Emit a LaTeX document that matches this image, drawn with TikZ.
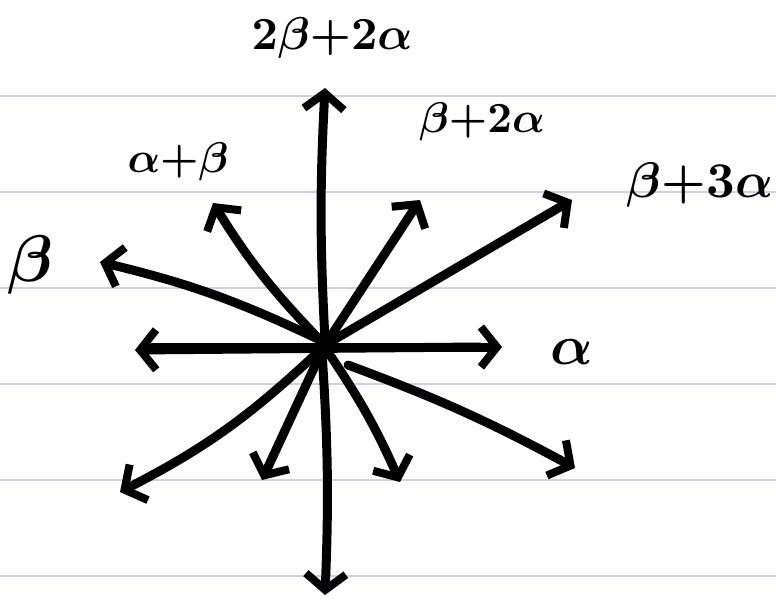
\documentclass[tikz,border=0pt]{standalone}
\usetikzlibrary{arrows.meta}
\begin{document}
\begin{tikzpicture}[x=1pt,y=-1pt,
  rule/.style={draw=rulecol,line width=1.8pt},
  root/.style={line width=9pt,line cap=round,line join=round,
    -{Straight Barb[length=16pt,width=40pt,line width=8pt]}},
  lab/.style={inner sep=0pt,font=\boldmath}]
\definecolor{rulecol}{HTML}{C8D3E3}
\useasboundingbox (0,0) rectangle (776,606);
\foreach \yy in {96,192,288,384,480,576} \draw[rule] (0,\yy) -- (776,\yy);
\coordinate (o) at (325,345);
\coordinate (a) at (502,347);
\coordinate (na) at (135,350);
\coordinate (up) at (325,88);
\coordinate (dn) at (325,595);
\coordinate (b) at (100,262);
\coordinate (ab) at (213,203);
\coordinate (b2a) at (420,200);
\coordinate (b3a) at (572,200);
\coordinate (nb3a) at (120,492);
\coordinate (nab) at (262,480);
\coordinate (nb2a) at (400,482);
\coordinate (nb) at (575,468);
\draw[root] (152,347) -- (a);
\draw[root] (480,347) -- (na);
\draw[root] (325,340) to[bend left=3] (up);
\draw[root] (322,352) to[bend left=3] (dn);
\draw[root] (320,340) to[bend right=6] (b);
\draw[root] (318,338) to[bend left=6] (ab);
\draw[root] (o) -- (b2a);
\draw[root] (o) -- (b3a);
\draw[root] (318,352) to[bend left=8] (nb3a);
\draw[root] (320,355) -- (nab);
\draw[root] (330,355) to[bend left=5] (nb2a);
\draw[root] (348,365) to[bend left=4] (nb);
\node[lab] (l1) at (332,38) {\scalebox{4.6}{$2\beta{+}2\alpha$}};
\node[lab] (l2) at (482,122) {\scalebox{4.3}{$\beta{+}2\alpha$}};
\node[lab] (l3) at (178,162) {\scalebox{4.3}{$\alpha{+}\beta$}};
\node[lab] (l4) at (700,185) {\scalebox{5}{$\beta{+}3\alpha$}};
\node[lab] (l5) at (30,265) {\scalebox{6.6}{$\beta$}};
\node[lab] (l6) at (572,352) {\scalebox{5.6}{$\alpha$}};
\end{tikzpicture}
\end{document}
